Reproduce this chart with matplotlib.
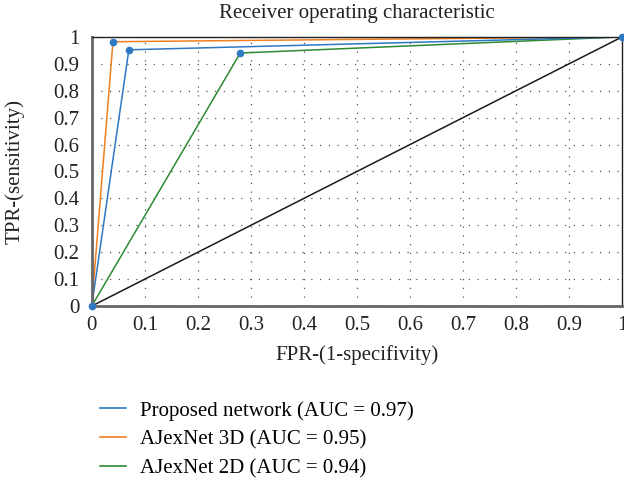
import numpy as np
import matplotlib
matplotlib.use("Agg")
import matplotlib.pyplot as plt
from matplotlib.lines import Line2D

plt.rcParams['font.family'] = ['Liberation Serif', 'DejaVu Serif']

# ROC points
fpr_prop = [0, 0.07, 1]
tpr_prop = [0, 0.952, 1]
fpr_3d = [0, 0.04, 1]
tpr_3d = [0, 0.982, 1]
fpr_2d = [0, 0.28, 1]
tpr_2d = [0, 0.94, 1]
chance = [0, 1]

labels = ["Proposed network (AUC = 0.97)",
          "AJexNet 3D (AUC = 0.95)",
          "AJexNet 2D (AUC = 0.94)"]
ticks = np.arange(0, 11) / 10
tick_labels = ["0", "0.1", "0.2", "0.3", "0.4", "0.5", "0.6", "0.7", "0.8", "0.9", "1"]

blue = "#2f78c4"
orange = "#f07f1f"
green = "#2d8a32"
txt = "#222222"

fig = plt.figure(figsize=(6.24, 4.79), dpi=100)
ax = fig.add_axes([0.147, 0.361, 0.85, 0.562])

ax.plot(chance, chance, color="#1a1a1a", lw=1.1)
ax.plot(fpr_2d, tpr_2d, color=green, lw=1.1)
ax.plot(fpr_3d, tpr_3d, color=orange, lw=1.1)
ax.plot(fpr_prop, tpr_prop, color=blue, lw=1.1)
# markers are all drawn blue
mx = [0, fpr_prop[1], fpr_3d[1], fpr_2d[1], 1]
my = [0, tpr_prop[1], tpr_3d[1], tpr_2d[1], 1]
ax.plot(mx, my, 'o', color=blue, ms=4.5, clip_on=False, zorder=5)

ax.set_xlim(0, 1)
ax.set_ylim(0, 1)
ax.set_xticks(ticks)
ax.set_xticklabels(tick_labels)
ax.set_yticks(ticks)
ax.set_yticklabels(tick_labels)
ax.tick_params(length=0, labelsize=15, colors=txt)
ax.tick_params(axis="y", pad=9)
ax.tick_params(axis="x", pad=7)
ax.grid(True, linestyle=(0, (1, 6)), color="#555555", lw=0.9)
for s in ["left", "bottom"]:
    ax.spines[s].set_color("#666666")
    ax.spines[s].set_linewidth(2)
for s in ["top", "right"]:
    ax.spines[s].set_color("#222222")
    ax.spines[s].set_linewidth(1)

fig.text(0.572, 0.972, "Receiver operating characteristic", fontsize=15,
         color=txt, ha="center", va="center")
ax.set_xlabel("FPR-(1-specifivity)", fontsize=15, color=txt)
ax.xaxis.set_label_coords(0.5, -0.145)
ax.set_ylabel("TPR-(sensitivity)", fontsize=15, color=txt)
ax.yaxis.set_label_coords(-0.127, 0.5)

handles = [Line2D([], [], color=blue, lw=1.2),
           Line2D([], [], color=orange, lw=1.2),
           Line2D([], [], color=green, lw=1.2)]
fig.legend(handles, labels, loc="upper left", bbox_to_anchor=(0.16, 0.163),
           frameon=False, fontsize=15, handlelength=1.25, labelspacing=0.45,
           handletextpad=0.7, borderaxespad=0, borderpad=0)

plt.savefig("out.png", dpi=100)
